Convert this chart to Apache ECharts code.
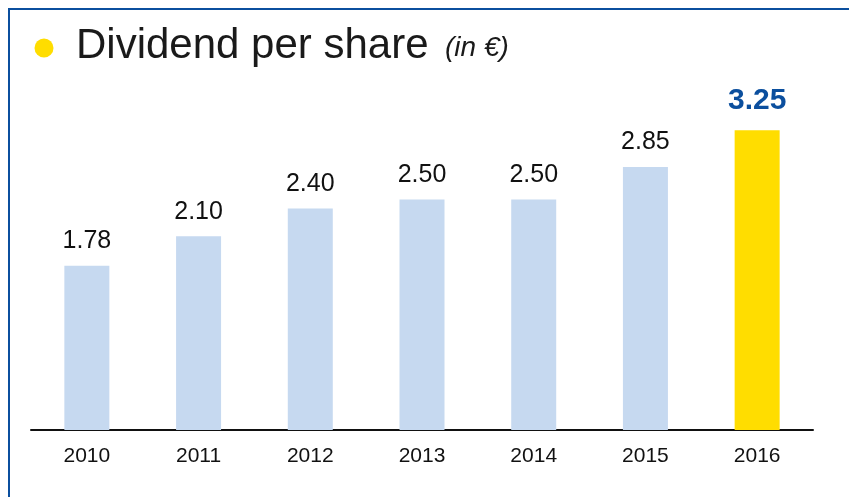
<!DOCTYPE html>
<html>
<head>
<meta charset="utf-8">
<script src="https://cdn.jsdelivr.net/npm/echarts@6/dist/echarts.min.js"></script>
<style>
  html, body { margin: 0; padding: 0; background: #ffffff; }
  #chart { width: 849px; height: 497px; }
</style>
</head>
<body>
<div id="chart"></div>
<script>
// Dividend per share by year, in euros
const years = ['2010', '2011', '2012', '2013', '2014', '2015', '2016'];
const dividends = [1.78, 2.10, 2.40, 2.50, 2.50, 2.85, 3.25];
const highlightYear = '2016';

const FONT = '"Liberation Sans", Arial, sans-serif';
const BLUE = '#0b4f9e';
const PALE = '#c6d9f0';
const YELLOW = '#ffdd00';

const barData = years.map((y, i) => {
  const hot = y === highlightYear;
  return {
    value: dividends[i],
    itemStyle: { color: hot ? YELLOW : PALE },
    label: hot
      ? { color: BLUE, fontWeight: 'bold', fontSize: 30, distance: 14 }
      : { color: '#111111', fontSize: 25, distance: 12 }
  };
});

const chart = echarts.init(document.getElementById('chart'));
chart.setOption({
  animation: false,
  backgroundColor: '#ffffff',
  grid: { left: 31, right: 36, top: 61, bottom: 67 },
  xAxis: {
    type: 'category',
    data: years,
    axisLine: { lineStyle: { color: '#111111', width: 2 } },
    axisTick: { show: false },
    axisLabel: { color: '#111111', fontSize: 21, fontFamily: FONT, margin: 16 }
  },
  yAxis: {
    type: 'value',
    min: 0,
    max: 4,
    show: false,
    splitLine: { show: false }
  },
  series: [{
    type: 'bar',
    data: barData,
    barWidth: 45,
    label: {
      show: true,
      position: 'top',
      fontFamily: FONT,
      formatter: p => p.value.toFixed(2)
    }
  }],
  graphic: [
    {
      type: 'rect',
      silent: true,
      shape: { x: 9, y: 9, width: 900, height: 600 },
      style: { fill: 'none', stroke: BLUE, lineWidth: 2 }
    },
    {
      type: 'circle',
      silent: true,
      shape: { cx: 44, cy: 48, r: 9.5 },
      style: { fill: YELLOW }
    },
    {
      type: 'text',
      silent: true,
      x: 76,
      y: 46,
      style: {
        text: 'Dividend per share',
        fill: '#1a1a1a',
        font: '42px ' + FONT,
        verticalAlign: 'middle',
        align: 'left'
      }
    },
    {
      type: 'text',
      silent: true,
      x: 445,
      y: 48,
      style: {
        text: '(in €)',
        fill: '#1a1a1a',
        font: 'italic 28px ' + FONT,
        verticalAlign: 'middle',
        align: 'left'
      }
    }
  ]
});
</script>
</body>
</html>
